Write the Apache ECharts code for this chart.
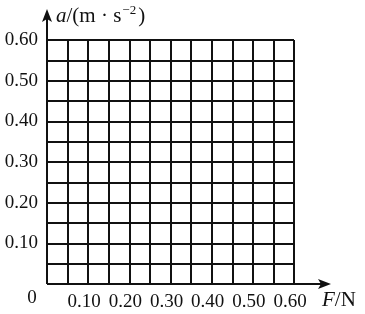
<!DOCTYPE html>
<html>
<head>
<meta charset="utf-8">
<script src="https://cdn.jsdelivr.net/npm/echarts@6/dist/echarts.min.js"></script>
<style>html,body{margin:0;padding:0;background:#fff;}#c{width:365px;height:314px;}</style>
</head>
<body>
<div id="c"></div>
<script>
// Axis ranges and tick labels
var xMin = 0, xMax = 0.60, xStep = 0.05;
var yMin = 0, yMax = 0.60, yStep = 0.05;
var xTickLabels = ['0.10', '0.20', '0.30', '0.40', '0.50', '0.60'];
var yTickLabels = ['0.10', '0.20', '0.30', '0.40', '0.50', '0.60'];
var originLabel = '0';
var seriesData = []; // blank grid paper, no plotted points

var FONT = '"Liberation Serif", "Times New Roman", serif';
var chart = echarts.init(document.getElementById('c'), null, {renderer: 'canvas'});

function fmt(list) {
  return function (v) {
    var s = v.toFixed(2);
    return list.indexOf(s) >= 0 ? s : '';
  };
}

var G = {left: 47, right: 71, top: 40, bottom: 30};

chart.setOption({
  backgroundColor: '#fff',
  animation: false,
  grid: {left: G.left, right: G.right, top: G.top, bottom: G.bottom, containLabel: false},
  xAxis: {
    type: 'value', min: xMin, max: xMax, interval: xStep,
    axisLine: {show: false}, axisTick: {show: false},
    splitLine: {show: true, lineStyle: {color: '#111', width: 2}},
    axisLabel: {
      formatter: fmt(xTickLabels), margin: 9, color: '#111',
      fontFamily: FONT, fontSize: 19, padding: [0, 8, 0, 0], showMinLabel: true, showMaxLabel: true
    },
    name: '{i|F}/N', nameLocation: 'end', nameGap: 28,
    nameTextStyle: {
      color: '#111', fontFamily: FONT, fontSize: 21, align: 'left', verticalAlign: 'top', padding: [6, 0, 0, 0],
      rich: {i: {fontStyle: 'italic', fontFamily: FONT, fontSize: 21, color: '#111'}}
    }
  },
  yAxis: {
    type: 'value', min: yMin, max: yMax, interval: yStep,
    axisLine: {show: false}, axisTick: {show: false},
    splitLine: {show: true, lineStyle: {color: '#111', width: 2}},
    axisLabel: {
      formatter: fmt(yTickLabels), margin: 9, color: '#111',
      fontFamily: FONT, fontSize: 19, showMinLabel: true, showMaxLabel: true
    },
    name: '{i|a}/(m · s{sup|−2})', nameLocation: 'end', nameGap: 12,
    nameTextStyle: {
      color: '#111', fontFamily: FONT, fontSize: 21, align: 'left', padding: [0, 0, 0, 9],
      rich: {
        i: {fontStyle: 'italic', fontFamily: FONT, fontSize: 21, color: '#111'},
        sup: {fontFamily: FONT, fontSize: 13, color: '#111', padding: [0, 2, 11, 1]}
      }
    }
  },
  series: [{type: 'scatter', data: seriesData}]
});

// axes with arrows, and origin label, placed from the axis scale
var o = chart.convertToPixel({gridIndex: 0}, [xMin, yMin]);
var xe = chart.convertToPixel({gridIndex: 0}, [xMax, yMin]);
var ye = chart.convertToPixel({gridIndex: 0}, [xMin, yMax]);
var ox = Math.round(o[0]), oy = Math.round(o[1]);
var xTip = Math.round(xe[0]) + 37, yTip = Math.round(ye[1]) - 31;
chart.setOption({
  graphic: [
    {type: 'line', shape: {x1: ox, y1: oy, x2: xTip - 6, y2: oy}, style: {stroke: '#111', lineWidth: 2}},
    {type: 'line', shape: {x1: ox, y1: oy, x2: ox, y2: yTip + 6}, style: {stroke: '#111', lineWidth: 2}},
    {type: 'polygon', shape: {points: [[xTip, oy], [xTip - 13, oy - 5], [xTip - 10, oy], [xTip - 13, oy + 5]]}, style: {fill: '#111'}},
    {type: 'polygon', shape: {points: [[ox, yTip], [ox - 5, yTip + 13], [ox, yTip + 10], [ox + 5, yTip + 13]]}, style: {fill: '#111'}},
    {type: 'text', x: ox - 15, y: oy + 14, style: {text: originLabel, fontFamily: FONT, fontSize: 19, fill: '#111', align: 'center', verticalAlign: 'middle'}}
  ]
});
</script>
</body>
</html>
